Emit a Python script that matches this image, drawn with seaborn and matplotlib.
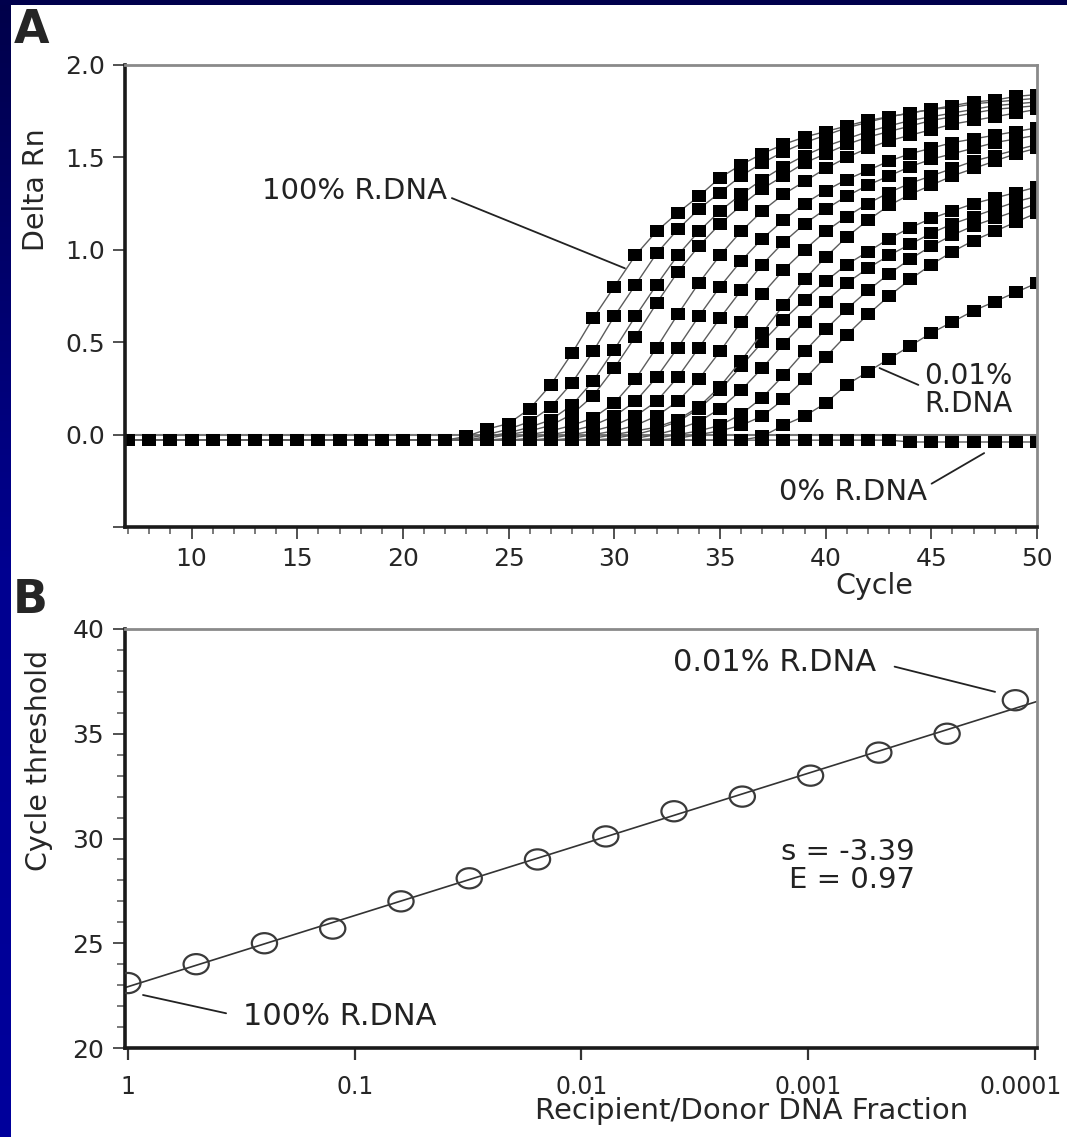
import numpy as np
import pandas as pd
import matplotlib
matplotlib.use("Agg")
import matplotlib.pyplot as plt
import matplotlib.transforms as mtransforms
import seaborn as sns
from matplotlib.path import Path
from matplotlib.ticker import MultipleLocator, NullLocator
from matplotlib.colors import LinearSegmentedColormap

# ---- panel A: amplification plot, Delta Rn read per cycle ----
cycles = list(range(7, 51))
# cycles 7-22: all runs lie on the same flat baseline
baseline_early = [-0.03, -0.03, -0.03, -0.03, -0.03, -0.03, -0.03, -0.03,
                  -0.03, -0.03, -0.03, -0.03, -0.03, -0.03, -0.03, -0.03]
# cycles 23-50 for each dilution of recipient DNA
rdna_100 = [-0.01, 0.03, 0.06, 0.14, 0.27, 0.44, 0.63, 0.80, 0.97, 1.10, 1.20, 1.29, 1.39, 1.46,
            1.52, 1.57, 1.61, 1.64, 1.67, 1.70, 1.72, 1.74, 1.76, 1.77, 1.79, 1.80, 1.81, 1.82]
rdna_50 = [-0.02, 0.00, 0.03, 0.07, 0.15, 0.28, 0.45, 0.64, 0.81, 0.98, 1.11, 1.22, 1.31, 1.40,
           1.47, 1.53, 1.58, 1.62, 1.66, 1.69, 1.72, 1.74, 1.76, 1.78, 1.80, 1.81, 1.83, 1.84]
rdna_25 = [-0.03, -0.01, 0.01, 0.04, 0.08, 0.16, 0.29, 0.46, 0.64, 0.81, 0.97, 1.10, 1.21, 1.30,
           1.38, 1.45, 1.51, 1.56, 1.60, 1.64, 1.67, 1.70, 1.72, 1.74, 1.76, 1.78, 1.79, 1.80]
rdna_12 = [-0.03, -0.02, 0.00, 0.02, 0.05, 0.11, 0.21, 0.36, 0.53, 0.71, 0.88, 1.02, 1.14, 1.24,
           1.33, 1.40, 1.47, 1.52, 1.57, 1.61, 1.64, 1.67, 1.70, 1.72, 1.74, 1.76, 1.77, 1.78]
rdna_6 = [-0.03, -0.03, -0.02, 0.00, 0.02, 0.05, 0.09, 0.17, 0.30, 0.47, 0.65, 0.82, 0.97, 1.10,
          1.21, 1.30, 1.37, 1.44, 1.50, 1.55, 1.59, 1.62, 1.65, 1.68, 1.70, 1.72, 1.74, 1.76]
rdna_3 = [-0.03, -0.03, -0.03, -0.02, 0.00, 0.02, 0.05, 0.10, 0.18, 0.31, 0.47, 0.64, 0.80, 0.94,
          1.06, 1.16, 1.25, 1.32, 1.38, 1.43, 1.48, 1.52, 1.55, 1.58, 1.60, 1.62, 1.64, 1.66]
rdna_1_6 = [-0.03, -0.03, -0.03, -0.03, -0.02, 0.00, 0.02, 0.05, 0.10, 0.18, 0.31, 0.47, 0.63, 0.78,
            0.92, 1.04, 1.14, 1.22, 1.29, 1.35, 1.40, 1.45, 1.49, 1.52, 1.55, 1.58, 1.60, 1.62]
rdna_0_8 = [-0.03, -0.03, -0.03, -0.03, -0.03, -0.02, 0.00, 0.02, 0.05, 0.10, 0.18, 0.30, 0.45, 0.61,
            0.76, 0.89, 1.00, 1.10, 1.18, 1.25, 1.31, 1.36, 1.40, 1.44, 1.48, 1.51, 1.54, 1.57]
rdna_0_4 = [-0.03, -0.03, -0.03, -0.03, -0.03, -0.03, -0.02, 0.00, 0.02, 0.04, 0.08, 0.15, 0.26, 0.40,
            0.55, 0.70, 0.84, 0.96, 1.07, 1.16, 1.24, 1.30, 1.35, 1.40, 1.44, 1.48, 1.52, 1.55]
rdna_0_2 = [-0.03, -0.03, -0.03, -0.03, -0.03, -0.03, -0.03, -0.02, 0.00, 0.03, 0.07, 0.14, 0.24, 0.37,
            0.50, 0.62, 0.73, 0.83, 0.92, 0.99, 1.06, 1.12, 1.17, 1.21, 1.25, 1.28, 1.31, 1.34]
rdna_0_1 = [-0.03, -0.03, -0.03, -0.03, -0.03, -0.03, -0.03, -0.03, -0.02, 0.00, 0.03, 0.07, 0.14, 0.24,
            0.36, 0.49, 0.61, 0.72, 0.82, 0.90, 0.97, 1.03, 1.09, 1.14, 1.18, 1.22, 1.26, 1.29]
rdna_0_05 = [-0.03, -0.03, -0.03, -0.03, -0.03, -0.03, -0.03, -0.03, -0.03, -0.02, 0.00, 0.02, 0.05, 0.11,
             0.20, 0.32, 0.45, 0.57, 0.68, 0.78, 0.87, 0.95, 1.02, 1.08, 1.13, 1.17, 1.21, 1.25]
rdna_0_02 = [-0.03, -0.03, -0.03, -0.03, -0.03, -0.03, -0.03, -0.03, -0.03, -0.03, -0.02, 0.00, 0.02, 0.05,
             0.10, 0.19, 0.30, 0.42, 0.54, 0.65, 0.75, 0.84, 0.92, 0.99, 1.05, 1.10, 1.15, 1.20]
rdna_0_01 = [-0.03, -0.03, -0.03, -0.03, -0.03, -0.03, -0.03, -0.03, -0.03, -0.03, -0.03, -0.03, -0.03, -0.03,
             -0.01, 0.05, 0.10, 0.17, 0.27, 0.34, 0.41, 0.48, 0.55, 0.61, 0.67, 0.72, 0.77, 0.82]
rdna_0 = [-0.03, -0.03, -0.03, -0.03, -0.03, -0.03, -0.03, -0.03, -0.03, -0.03, -0.03, -0.03, -0.03, -0.03,
          -0.03, -0.03, -0.03, -0.03, -0.03, -0.03, -0.03, -0.04, -0.04, -0.04, -0.04, -0.04, -0.04, -0.04]

samples = ["100%", "50%", "25%", "12.5%", "6.25%", "3.13%", "1.56%", "0.78%",
           "0.39%", "0.2%", "0.1%", "0.05%", "0.02%", "0.01%", "0%"]
late_values = [rdna_100, rdna_50, rdna_25, rdna_12, rdna_6, rdna_3, rdna_1_6, rdna_0_8,
               rdna_0_4, rdna_0_2, rdna_0_1, rdna_0_05, rdna_0_02, rdna_0_01, rdna_0]

# ---- panel B: standard curve ----
fraction = [1, 0.5, 0.25, 0.125, 0.0625, 0.03125, 0.015625, 0.0078125, 0.00390625,
            0.001953125, 0.0009765625, 0.00048828125, 0.000244140625, 0.0001220703125]
ct = [23.1, 24.0, 25.0, 25.7, 27.0, 28.1, 29.0, 30.1, 31.3, 32.0, 33.0, 34.1, 35.0, 36.6]
frac_ticks = [1, 0.1, 0.01, 0.001, 0.0001]
frac_labels = ["1", "0.1", "0.01", "0.001", "0.0001"]

# build long table for seaborn
rows = []
for name, late in zip(samples, late_values):
    for c, v in zip(cycles, baseline_early + late):
        rows.append((name, c, v))
amp = pd.DataFrame(rows, columns=["sample", "cycle", "delta_rn"])

sns.set_theme(style="ticks")
plt.rcParams["font.family"] = ["DejaVu Sans"]

W, H = 1067, 1137
fig = plt.figure(figsize=(W / 100, H / 100), dpi=100)
fig.patch.set_facecolor("white")

# navy slide border (left strip gradient + top strip)
navy = LinearSegmentedColormap.from_list("navy", ["#00004a", "#000090", "#00009c"])
ax_bg = fig.add_axes([0, 0, 11 / W, 1])
ax_bg.imshow(np.linspace(0, 1, 200).reshape(-1, 1), aspect="auto", cmap=navy)
ax_bg.axis("off")
ax_top = fig.add_axes([0, 1 - 5 / H, 1, 5 / H])
ax_top.axis("off")
ax_top.add_patch(plt.Rectangle((0, 0), 1, 1, color="#00004c", transform=ax_top.transAxes))

ax_a = fig.add_axes([125 / W, 1 - 527 / H, 912 / W, 462 / H])
ax_b = fig.add_axes([125 / W, 1 - 1048 / H, 912 / W, 419 / H])

# slightly wide marker shapes, like the scanned figure
square = Path([(-0.55, -0.46), (0.55, -0.46), (0.55, 0.46), (-0.55, 0.46), (-0.55, -0.46)], closed=True)
circ = Path.unit_circle()
ellipse = Path(circ.vertices * np.array([1.25, 1.0]), circ.codes)

# ---- panel A ----
ax_a.axhline(0, color="#777777", lw=1.5, zorder=1)
sns.lineplot(data=amp, x="cycle", y="delta_rn", units="sample", estimator=None, sort=False,
             color="#5c5c5c", linewidth=1.0, marker=square, markersize=10.5,
             markerfacecolor="black", markeredgewidth=0, legend=False, ax=ax_a)

ax_a.set_xlim(6.85, 50)
ax_a.set_ylim(-0.5, 2.0)
ax_a.xaxis.set_major_locator(MultipleLocator(5))
ax_a.xaxis.set_minor_locator(MultipleLocator(1))
ax_a.set_yticks([-0.5, 0, 0.5, 1.0, 1.5, 2.0])
ax_a.set_yticklabels(["", "0.0", "0.5", "1.0", "1.5", "2.0"])
ax_a.tick_params(axis="both", which="major", direction="out", length=8.5, width=1.2,
                 color="#333333", labelsize=18, pad=6)
ax_a.tick_params(axis="x", which="minor", direction="out", length=5, width=1.1, color="#555555")
ax_a.set_ylabel("Delta Rn", fontsize=20.5)
ax_a.yaxis.set_label_coords(-0.082, 0.73)
ax_a.set_xlabel("Cycle", fontsize=20.5)
ax_a.xaxis.set_label_coords(0.822, -0.098)

line_kw = dict(arrowstyle="-", color="#222222", lw=1.3)
ax_a.annotate("100% R.DNA", xy=(30.5, 0.9), xytext=(22.1, 1.32), fontsize=21,
              ha="right", va="center", color="#222222",
              arrowprops=dict(line_kw, relpos=(1, 0.3), shrinkA=1, shrinkB=0))
ax_a.annotate("0.01%\nR.DNA", xy=(42.55, 0.36), xytext=(46.75, 0.24), fontsize=20,
              ha="center", va="center", multialignment="center", linespacing=1.0,
              color="#222222", arrowprops=dict(line_kw, relpos=(0, 0.55), shrinkA=2, shrinkB=0))
ax_a.annotate("0% R.DNA", xy=(47.5, -0.1), xytext=(41.3, -0.31), fontsize=21,
              ha="center", va="center", color="#222222",
              arrowprops=dict(line_kw, relpos=(1, 0.7), shrinkA=1, shrinkB=0))

# ---- panel B ----
ax_b.set_xscale("log")
ax_b.set_xlim(1.03, 9.8e-5)
ax_b.set_ylim(20, 40)
sns.regplot(x=np.array(fraction), y=np.array(ct), logx=True, ci=None, truncate=False,
            marker=ellipse, color="#333333", ax=ax_b,
            scatter_kws=dict(s=330, facecolors="none", edgecolors="#3a3a3a",
                             linewidths=1.6, alpha=1, zorder=3),
            line_kws=dict(color="#333333", lw=1.2, zorder=2))
ax_b.set_xlim(1.03, 9.8e-5)
ax_b.set_ylim(20, 40)
ax_b.set_xticks(frac_ticks)
ax_b.set_xticklabels(frac_labels)
ax_b.xaxis.set_minor_locator(NullLocator())
ax_b.yaxis.set_major_locator(MultipleLocator(5))
ax_b.yaxis.set_minor_locator(MultipleLocator(1))
ax_b.tick_params(axis="y", which="major", direction="out", length=9, width=1.2,
                 color="#333333", labelsize=18, pad=6)
ax_b.tick_params(axis="y", which="minor", direction="out", length=6, width=1.1, color="#555555")
ax_b.tick_params(axis="x", which="major", direction="out", length=8.5, width=1.6,
                 color="#333333", labelsize=17, pad=11)
# the last fraction label sits a little left of its tick so it stays on the page
last = ax_b.get_xticklabels()[-1]
last.set_transform(last.get_transform() + mtransforms.ScaledTranslation(-14 / 100, 0, fig.dpi_scale_trans))
ax_b.set_ylabel("Cycle threshold", fontsize=20.5)
ax_b.yaxis.set_label_coords(-0.079, 0.687)
ax_b.set_xlabel("Recipient/Donor DNA Fraction", fontsize=21)
ax_b.xaxis.set_label_coords(0.6875, -0.118)

ax_b.annotate("0.01% R.DNA", xy=(1.5e-4, 37.0), xytext=(5.0e-4, 38.42), fontsize=22,
              ha="right", va="center", color="#222222",
              arrowprops=dict(line_kw, relpos=(1, 0.5), shrinkA=11, shrinkB=0))
ax_b.annotate("100% R.DNA", xy=(0.858, 22.53), xytext=(0.311, 21.48), fontsize=22,
              ha="left", va="center", color="#222222",
              arrowprops=dict(line_kw, relpos=(0, 0.5), shrinkA=10, shrinkB=0))
ax_b.text(3.39e-4, 28.69, "s = -3.39\nE = 0.97", fontsize=21, ha="right", va="center",
          multialignment="right", linespacing=1.0, color="#222222")

for ax in (ax_a, ax_b):
    for side in ("left", "bottom"):
        ax.spines[side].set_linewidth(2.6)
        ax.spines[side].set_color("#1a1a1a")
    for side in ("top", "right"):
        ax.spines[side].set_visible(True)
        ax.spines[side].set_linewidth(2.0)
        ax.spines[side].set_color("#8a8a8a")

fig.text(14 / W, 1 - 43 / H, "A", fontsize=33, fontweight="bold", ha="left", va="baseline")
fig.text(13 / W, 1 - 613 / H, "B", fontsize=33, fontweight="bold", ha="left", va="baseline")

fig.savefig("out.png", dpi=100, facecolor="white")
